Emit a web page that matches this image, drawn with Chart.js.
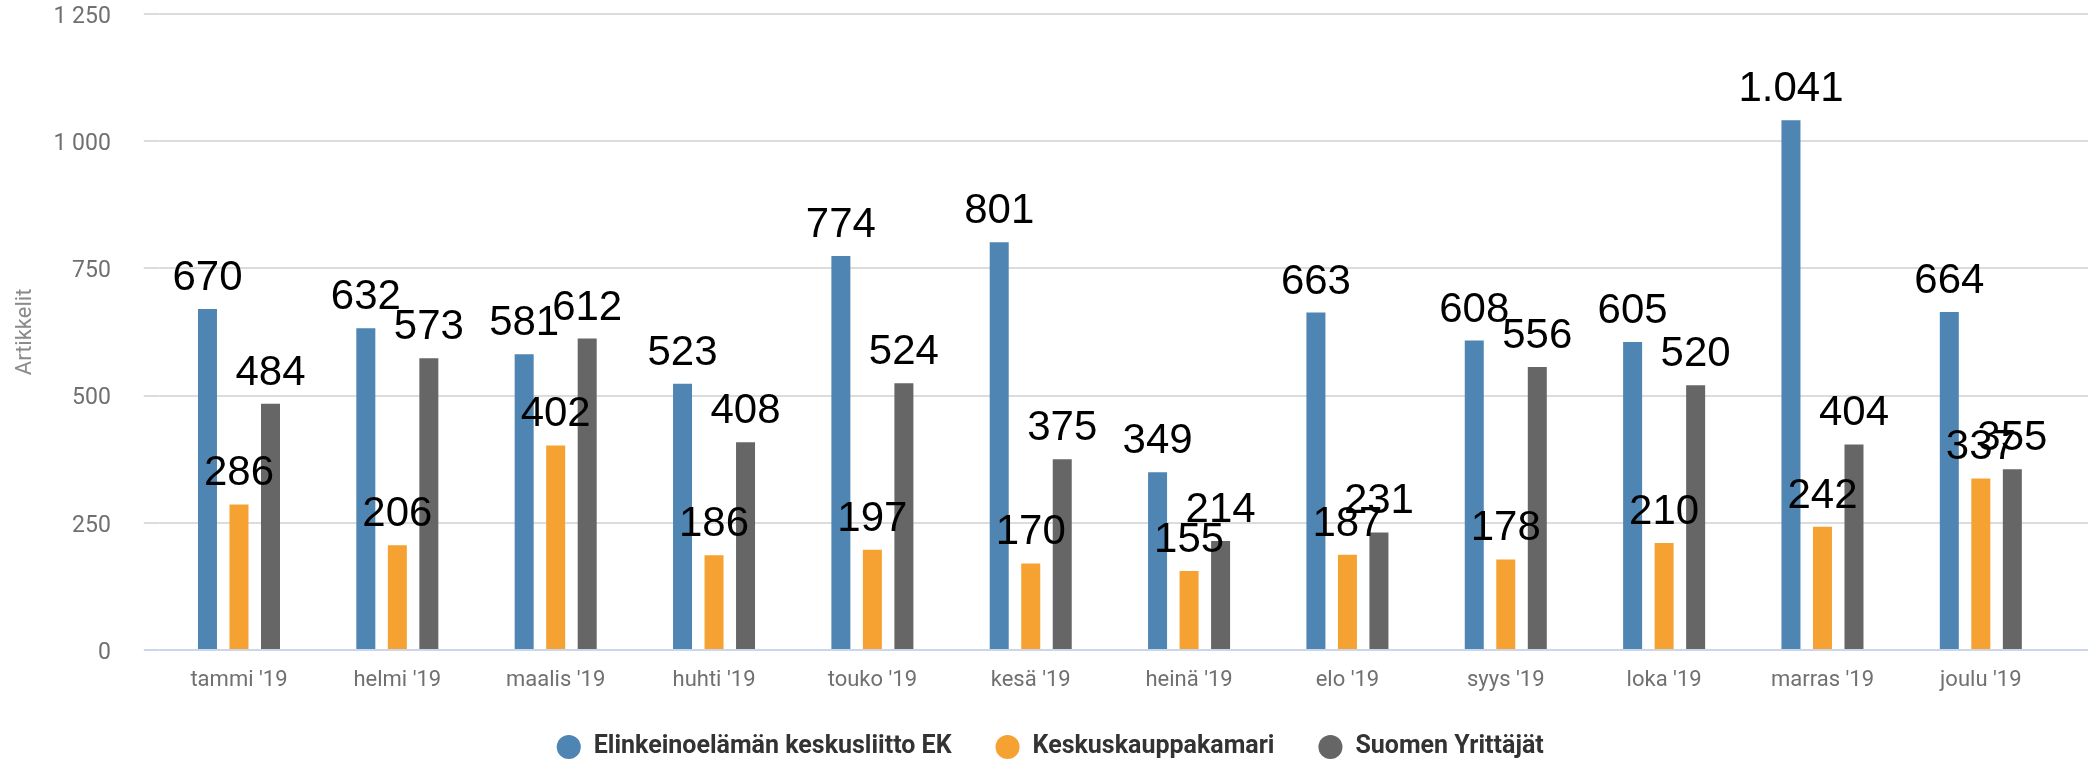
<!DOCTYPE html>
<html>
<head>
<meta charset="utf-8">
<script src="https://cdn.jsdelivr.net/npm/chart.js@4"></script>
<style>
  html, body { margin: 0; padding: 0; background: #fff; }
  #wrap { width: 2088px; height: 761px; }
</style>
</head>
<body>
<div id="wrap"><canvas id="chart"></canvas></div>
<script>
// data
const months = ["tammi '19", "helmi '19", "maalis '19", "huhti '19", "touko '19", "kesä '19",
  "heinä '19", "elo '19", "syys '19", "loka '19", "marras '19", "joulu '19"];
const ekValues = [670, 632, 581, 523, 774, 801, 349, 663, 608, 605, 1041, 664];
const kauppakamariValues = [286, 206, 402, 186, 197, 170, 155, 187, 178, 210, 242, 337];
const yrittajatValues = [484, 573, 612, 408, 524, 375, 214, 231, 556, 520, 404, 355];
const seriesNames = ['Elinkeinoelämän keskusliitto EK', 'Keskuskauppakamari', 'Suomen Yrittäjät'];
const yTicks = [0, 250, 500, 750, 1000, 1250];

const gridColor = (c) => (c.tick && c.tick.value === 0 ? '#ccd6eb' : '#dcdcdc');

// thousands with a space on the axis, with a dot on the bar labels
const fmtAxis = (v) => String(v).replace(/\B(?=(\d{3})+(?!\d))/g, ' ');
const fmtLabel = (v) => String(v).replace(/\B(?=(\d{3})+(?!\d))/g, '.');

const barLabels = {
  id: 'barLabels',
  afterDatasetsDraw(chart) {
    const ctx = chart.ctx;
    ctx.save();
    ctx.font = '42px "Liberation Sans", Arial, sans-serif';
    ctx.fillStyle = '#000';
    ctx.textAlign = 'center';
    ctx.textBaseline = 'alphabetic';
    chart.data.datasets.forEach((ds, i) => {
      chart.getDatasetMeta(i).data.forEach((bar, j) => {
        ctx.fillText(fmtLabel(ds.data[j]), bar.x, bar.y - 19);
      });
    });
    ctx.restore();
  }
};

Chart.defaults.font.family = 'Roboto, sans-serif';
Chart.defaults.color = '#707070';

new Chart(document.getElementById('chart'), {
  type: 'bar',
  data: {
    labels: months,
    datasets: [
      { label: seriesNames[0], data: ekValues, backgroundColor: '#4e85b2' },
      { label: seriesNames[1], data: kauppakamariValues, backgroundColor: '#f6a233' },
      { label: seriesNames[2], data: yrittajatValues, backgroundColor: '#666666' }
    ]
  },
  options: {
    responsive: true,
    maintainAspectRatio: false,
    animation: false,
    datasets: { bar: { categoryPercentage: 0.597, barPercentage: 0.603 } },
    layout: { padding: { left: 12, right: 0, top: 1, bottom: -8.5 } },
    plugins: {
      tooltip: { enabled: false },
      legend: {
        position: 'bottom',
        labels: {
          usePointStyle: true,
          pointStyle: 'circle',
          boxHeight: 17,
          padding: 43.5,
          color: '#333333',
          font: { size: 25, weight: 'bold' }
        }
      }
    },
    scales: {
      x: {
        grid: { display: true, drawOnChartArea: false, tickColor: 'rgba(0,0,0,0)', tickLength: 19 },
        border: { display: false },
        ticks: { padding: 0, font: { size: 22, lineHeight: 1 }, maxRotation: 0 }
      },
      y: {
        min: yTicks[0],
        max: yTicks[yTicks.length - 1],
        border: { display: false },
        // long tick mark, only its inner 16px drawn, so the grid runs a bit past the plot
        grid: { color: gridColor, tickColor: gridColor, lineWidth: 2, tickLength: 49, tickBorderDash: [0, 33, 16, 200] },
        ticks: { stepSize: 250, padding: 0, labelOffset: 3, font: { size: 23 }, callback: (v) => fmtAxis(v) },
        title: {
          display: true,
          text: 'Artikkelit',
          color: '#8a8a8a',
          font: { size: 22 },
          padding: { top: 0, bottom: 15 }
        }
      },
      y2: {
        position: 'right',
        min: yTicks[0],
        max: yTicks[yTicks.length - 1],
        border: { display: false },
        grid: { drawOnChartArea: false, color: gridColor, tickColor: gridColor, lineWidth: 2, tickLength: 28 },
        ticks: { display: false, stepSize: 250 }
      }
    }
  },
  plugins: [barLabels]
});
</script>
</body>
</html>
